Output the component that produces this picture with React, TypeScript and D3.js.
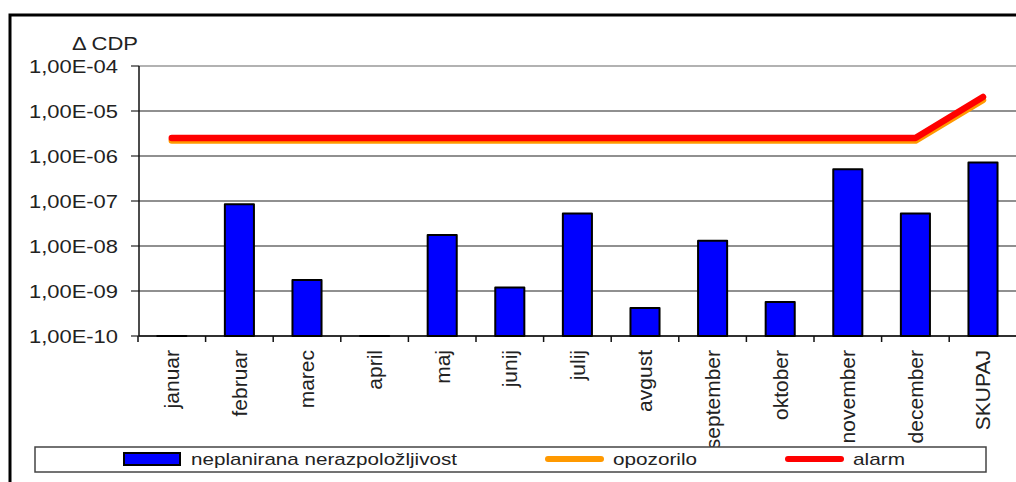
import React from "react";
import * as d3 from "d3";

const categories = ["januar","februar","marec","april","maj","junij","julij","avgust","september","oktober","november","december","SKUPAJ"];
const nerazpolozljivost = [1e-10, 8.5e-8, 1.75e-9, 1e-10, 1.75e-8, 1.2e-9, 5.3e-8, 4.2e-10, 1.3e-8, 5.7e-10, 5.1e-7, 5.3e-8, 7.2e-7];
const opozorilo = [2.2e-6,2.2e-6,2.2e-6,2.2e-6,2.2e-6,2.2e-6,2.2e-6,2.2e-6,2.2e-6,2.2e-6,2.2e-6,2.2e-6,1.75e-5];
const alarm = [2.5e-6,2.5e-6,2.5e-6,2.5e-6,2.5e-6,2.5e-6,2.5e-6,2.5e-6,2.5e-6,2.5e-6,2.5e-6,2.5e-6,2.05e-5];
const yTicks = [1e-4, 1e-5, 1e-6, 1e-7, 1e-8, 1e-9, 1e-10];
const yTickLabels = ["1,00E-04","1,00E-05","1,00E-06","1,00E-07","1,00E-08","1,00E-09","1,00E-10"];
const yTitle = "\u0394 CDP";
const legendLabels = ["neplanirana nerazpoložljivost", "opozorilo", "alarm"];

const FONT = "'Liberation Sans', Arial, sans-serif";

export default function App() {
  const left = 139, right = 1016, top = 66, bottom = 336;
  const x = d3.scaleBand<string>().domain(categories).range([138, 138 + 67.6 * 13]).padding(0);
  const y = d3.scaleLog().domain([1e-10, 1e-4]).range([bottom, top]);
  const bw = x.bandwidth() * 0.43;
  const cx = (c: string) => (x(c) as number) + x.bandwidth() / 2;
  const line = d3.line<number>().x((_, i) => cx(categories[i])).y((v) => y(v));

  const barPath = (c: string, v: number) => {
    const p = d3.path();
    const x0 = cx(c) - bw / 2;
    const yv = y(Math.max(v, 1e-10));
    p.moveTo(x0, bottom);
    p.lineTo(x0, yv);
    p.lineTo(x0 + bw, yv);
    p.lineTo(x0 + bw, bottom);
    p.closePath();
    return p.toString();
  };

  return (
    <svg width={1016} height={482} style={{ position: "absolute", left: 0, top: 0, background: "#fff" }} fontFamily={FONT}>
      <rect x={0} y={0} width={1016} height={482} fill="#fff" />
      {/* outer frame */}
      <rect x={10} y={15} width={1020} height={480} fill="none" stroke="#000" strokeWidth={3} />
      {/* plot top border */}
      <line x1={left} x2={right} y1={top} y2={top} stroke="#999" strokeWidth={1.5} />
      {/* gridlines */}
      {yTicks.map((t, i) => (
        <g key={i}>
          {i > 0 && <line x1={left} x2={right} y1={y(t)} y2={y(t)} stroke="#222" strokeWidth={1.2} />}
          <line x1={131} x2={left} y1={y(t)} y2={y(t)} stroke="#222" strokeWidth={1.2} />
          <text x={118} y={y(t)} dy="0.36em" textAnchor="end" fontSize={19} fill="#222"
            textLength={89} lengthAdjust="spacingAndGlyphs">{yTickLabels[i]}</text>
        </g>
      ))}
      <text x={72} y={50} fontSize={19} fill="#222" textLength={66} lengthAdjust="spacingAndGlyphs">{yTitle}</text>
      {/* axes */}
      <line x1={left} x2={left} y1={top} y2={bottom} stroke="#111" strokeWidth={1.5} />
      <line x1={left} x2={right} y1={bottom} y2={bottom} stroke="#111" strokeWidth={1.5} />
      {categories.map((c, i) => (
        <line key={"t" + i} x1={(x(c) as number)} x2={(x(c) as number)} y1={bottom} y2={bottom + 6} stroke="#111" strokeWidth={1.5} />
      ))}
      {/* bars */}
      {categories.map((c, i) => (
        <path key={"b" + i} d={barPath(c, nerazpolozljivost[i])} fill="#0000FF" stroke="#000" strokeWidth={2} strokeLinejoin="round" />
      ))}
      {/* lines */}
      <path d={line(opozorilo) as string} fill="none" stroke="#FF9900" strokeWidth={6.5} strokeLinecap="round" strokeLinejoin="round" />
      <path d={line(alarm) as string} fill="none" stroke="#FF0000" strokeWidth={6.5} strokeLinecap="round" strokeLinejoin="round" />
      {/* x labels */}
      {categories.map((c, i) => (
        <text key={"l" + i} transform={`translate(${cx(c)},350) rotate(-90)`} textAnchor="end" dy="0.35em" fontSize={21} fill="#222">{c}</text>
      ))}
      {/* legend */}
      <rect x={35} y={447} width={951} height={25} fill="#fff" stroke="#444" strokeWidth={1.5} />
      <rect x={124} y={453} width={56} height={12} fill="#0000FF" stroke="#000" strokeWidth={2} />
      <text x={191} y={459} dy="0.36em" fontSize={17} fill="#222" textLength={266} lengthAdjust="spacingAndGlyphs">{legendLabels[0]}</text>
      <line x1={548} x2={601} y1={459} y2={459} stroke="#FF9900" strokeWidth={6} strokeLinecap="round" />
      <text x={613} y={459} dy="0.36em" fontSize={17} fill="#222" textLength={84} lengthAdjust="spacingAndGlyphs">{legendLabels[1]}</text>
      <line x1={788} x2={841} y1={459} y2={459} stroke="#FF0000" strokeWidth={6} strokeLinecap="round" />
      <text x={853} y={459} dy="0.36em" fontSize={17} fill="#222" textLength={52} lengthAdjust="spacingAndGlyphs">{legendLabels[2]}</text>
    </svg>
  );
}
